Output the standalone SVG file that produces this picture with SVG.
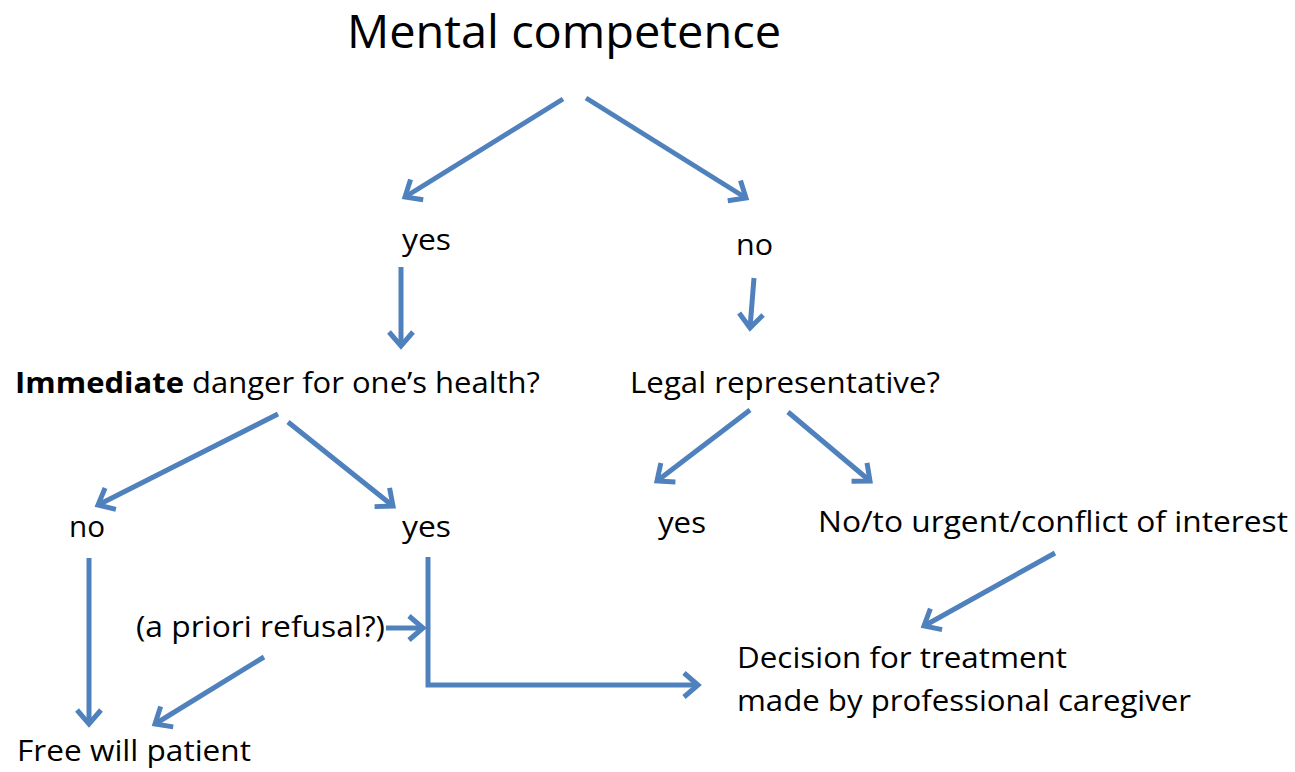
<svg xmlns="http://www.w3.org/2000/svg" width="1295" height="772" viewBox="0 0 1295 772">
  <style>
    .t { font-family: "Open Sans", "Noto Sans", "Liberation Sans", sans-serif; font-size: 29px; fill: #000; }
    .title { font-size: 45px; }
    .c { fill: none; stroke: #4F81BD; stroke-width: 5; }
  </style>
  <defs>
    <marker id="arrow" markerUnits="userSpaceOnUse" markerWidth="40" markerHeight="40" viewBox="-20 -20 40 40" refX="0" refY="0" orient="auto" overflow="visible">
      <path d="M-14,-12 L0,0 L-14,12" fill="none" stroke="#4F81BD" stroke-width="5" stroke-linejoin="miter"/>
    </marker>
  </defs>
  <rect width="1295" height="772" fill="#fff"/>

  <g id="connectors">
    <line class="c" x1="563" y1="99" x2="405" y2="197" marker-end="url(#arrow)"/>
    <line class="c" x1="586" y1="98" x2="746" y2="198" marker-end="url(#arrow)"/>
    <line class="c" x1="401" y1="267" x2="401" y2="346" marker-end="url(#arrow)"/>
    <line class="c" x1="754" y1="278" x2="750" y2="328" marker-end="url(#arrow)"/>
    <line class="c" x1="278" y1="414" x2="98" y2="505" marker-end="url(#arrow)"/>
    <line class="c" x1="288" y1="422" x2="393" y2="506" marker-end="url(#arrow)"/>
    <line class="c" x1="750" y1="410" x2="657" y2="481" marker-end="url(#arrow)"/>
    <line class="c" x1="788" y1="412" x2="870" y2="481" marker-end="url(#arrow)"/>
    <line class="c" x1="1055" y1="553" x2="924" y2="626" marker-end="url(#arrow)"/>
    <line class="c" x1="89" y1="558" x2="89" y2="724" marker-end="url(#arrow)"/>
    <line class="c" x1="264" y1="657" x2="155" y2="724" marker-end="url(#arrow)"/>
    <line class="c" x1="386" y1="628" x2="423" y2="628" marker-end="url(#arrow)"/>
    <polyline class="c" points="428,557 428,685 698,685" marker-end="url(#arrow)"/>
  </g>

  <g id="n-mental"><text class="t title" x="347" y="48" textLength="434" lengthAdjust="spacingAndGlyphs">Mental competence</text></g>
  <g id="n-yes1"><text class="t" x="402" y="250" textLength="49" lengthAdjust="spacingAndGlyphs">yes</text></g>
  <g id="n-no1"><text class="t" x="736" y="255" textLength="37" lengthAdjust="spacingAndGlyphs">no</text></g>
  <g id="n-danger"><text class="t" x="15" y="393" textLength="525" lengthAdjust="spacingAndGlyphs"><tspan font-weight="bold">Immediate</tspan> danger for one’s health?</text></g>
  <g id="n-legal"><text class="t" x="630" y="393" textLength="310" lengthAdjust="spacingAndGlyphs">Legal representative?</text></g>
  <g id="n-no2"><text class="t" x="69" y="537" textLength="36" lengthAdjust="spacingAndGlyphs">no</text></g>
  <g id="n-yes2"><text class="t" x="402" y="537" textLength="49" lengthAdjust="spacingAndGlyphs">yes</text></g>
  <g id="n-yes3"><text class="t" x="658" y="533" textLength="48" lengthAdjust="spacingAndGlyphs">yes</text></g>
  <g id="n-nourgent"><text class="t" x="818" y="532" textLength="470" lengthAdjust="spacingAndGlyphs">No/to urgent/conflict of interest</text></g>
  <g id="n-refusal"><text class="t" x="136" y="637" textLength="249" lengthAdjust="spacingAndGlyphs">(a priori refusal?)</text></g>
  <g id="n-decision">
    <text class="t" x="737" y="668" textLength="330" lengthAdjust="spacingAndGlyphs">Decision for treatment</text>
    <text class="t" x="737" y="711" textLength="454" lengthAdjust="spacingAndGlyphs">made by professional caregiver</text>
  </g>
  <g id="n-free"><text class="t" x="17" y="761" textLength="234" lengthAdjust="spacingAndGlyphs">Free will patient</text></g>
</svg>
